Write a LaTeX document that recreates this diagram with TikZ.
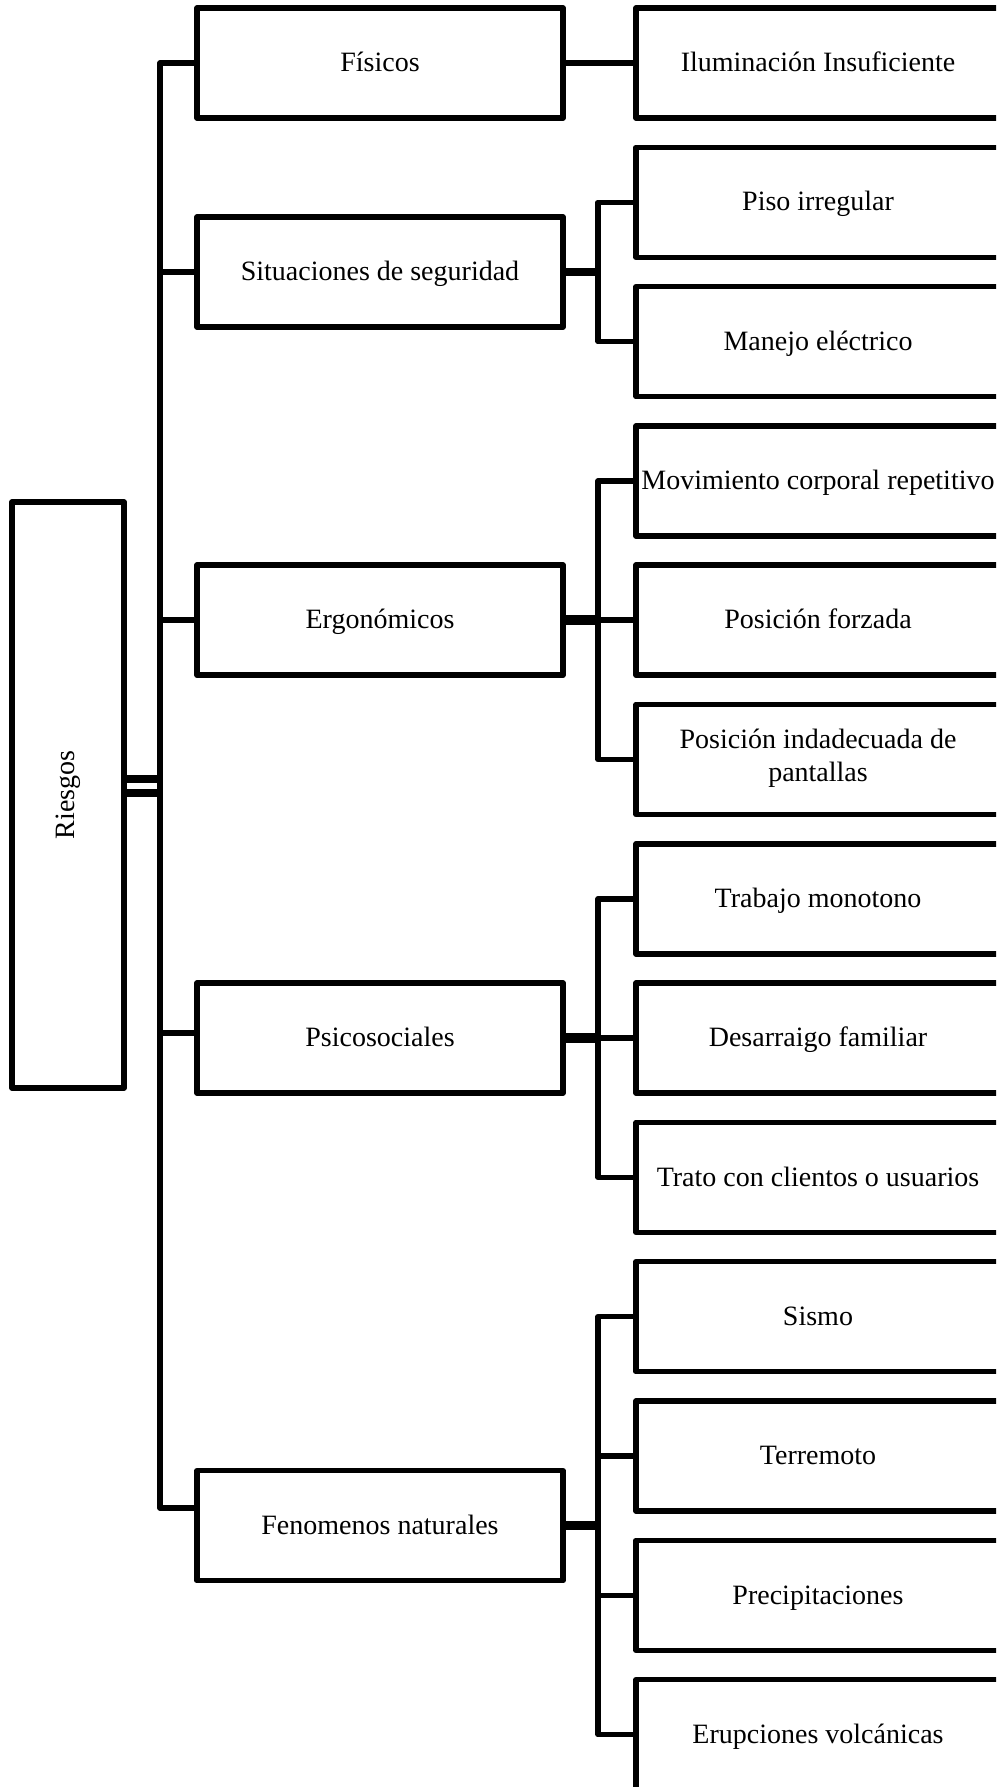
\documentclass[tikz,border=0pt]{standalone}
\usepackage{fontspec}
\setmainfont{Liberation Serif}
\begin{document}
\begin{tikzpicture}[x=1pt,y=-1pt,
  box/.style={draw, rectangle, line width=5.5pt, line join=round,
    inner sep=0pt, outer sep=0pt, minimum height=110pt,
    align=center, anchor=north west,
    text height=26pt, text depth=8.6pt,
    font=\fontsize{28}{33}\selectfont},
  twoline/.style={text height=52pt, text depth=7.6pt},
  cat/.style={box, minimum width=366pt},
  item/.style={box, minimum width=364pt},
  link/.style={line width=5.5pt, line join=round, line cap=butt},
  feed/.style={line width=9.5pt, line cap=butt},
]
\useasboundingbox (0,0) rectangle (996,1787);
\clip (0,0) rectangle (996,1787);

% root
\node[draw, rectangle, line width=5.5pt, line join=round, inner sep=0pt,
  outer sep=0pt, minimum width=112pt, minimum height=586pt]
  (R) at (68,795) {};
\node[rotate=90, font=\fontsize{28}{33}\selectfont] (Rtxt) at (R.center) {Riesgos};

% risk categories
\node[cat] (F)   at (197,8)      {Físicos};
\node[cat] (S)   at (197,217.0)  {Situaciones de seguridad};
\node[cat] (E)   at (197,565.2)  {Ergonómicos};
\node[cat] (P)   at (197,983.1)  {Psicosociales};
\node[cat] (Fen) at (197,1470.7) {Fenomenos naturales};

% individual risks
\node[item] (i0)  at (636,8.0)    {Iluminación Insuficiente};
\node[item] (i1)  at (636,147.3)  {Piso irregular};
\node[item] (i2)  at (636,286.6)  {Manejo eléctrico};
\node[item] (i3)  at (636,425.9)  {Movimiento corporal repetitivo};
\node[item] (i4)  at (636,565.2)  {Posición forzada};
\node[item, twoline] (i5) at (636,704.5) {Posición indadecuada de\\pantallas};
\node[item] (i6)  at (636,843.8)  {Trabajo monotono};
\node[item] (i7)  at (636,983.1)  {Desarraigo familiar};
\node[item] (i8)  at (636,1122.4) {Trato con clientos o usuarios};
\node[item] (i9)  at (636,1261.7) {Sismo};
\node[item] (i10) at (636,1401.0) {Terremoto};
\node[item] (i11) at (636,1540.3) {Precipitaciones};
\node[item] (i12) at (636,1679.6) {Erupciones volcánicas};

% main bus
\coordinate (mb)  at (160,0);
\coordinate (mbB) at (160,1508);
\coordinate (j1)  at (160,779);
\coordinate (j2)  at (160,792.5);
\draw[line width=8pt] (R.east |- j1) -- (j1);
\draw[line width=8pt] (R.east |- j2) -- (j2);
\draw[link] (F.west) -| (mbB) -- (Fen.west |- mbB);
\draw[link] (mb |- S.west) -- (S.west);
\draw[link] (mb |- E.west) -- (E.west);
\coordinate (pj) at ([yshift=5pt]P.west);
\draw[link] (mb |- pj) -- (pj);

% sub buses
\coordinate (sb) at (598,0);
\draw[link] (F.east) -- (i0.west);

\draw[feed, line width=7.5pt] (S.east) -- (S.east -| sb);
\draw[link] (i1.west) -| (i2.west -| sb) -- (i2.west);

\draw[feed] (E.east) -- (E.east -| sb);
\draw[link] (i3.west) -| (i5.west -| sb) -- (i5.west);
\draw[link] (i4.west -| sb) -- (i4.west);

\draw[feed] (P.east) -- (P.east -| sb);
\draw[link] (i6.west) -| (i8.west -| sb) -- (i8.west);
\draw[link] (i7.west -| sb) -- (i7.west);

\draw[feed] (Fen.east) -- (Fen.east -| sb);
\draw[link] (i9.west) -| (i12.west -| sb) -- (i12.west);
\draw[link] (i10.west -| sb) -- (i10.west);
\draw[link] (i11.west -| sb) -- (i11.west);
\end{tikzpicture}
\end{document}
